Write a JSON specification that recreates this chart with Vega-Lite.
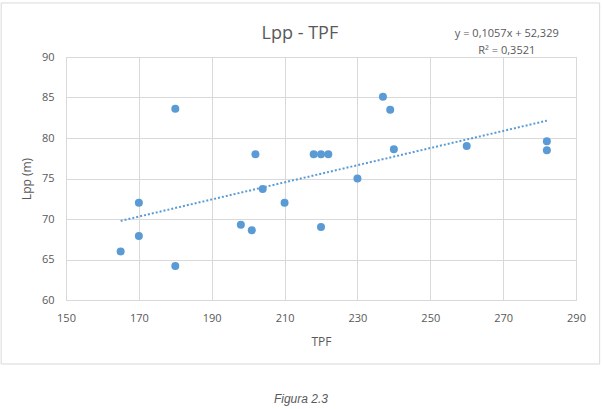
{
  "$schema": "https://vega.github.io/schema/vega-lite/v6.json",
  "autosize": "none",
  "width": 510,
  "height": 243,
  "padding": {"left": 66, "top": 57, "right": 27, "bottom": 109},
  "background": "white",
  "config": {
    "font": "Open Sans",
    "view": {"stroke": "#d9d9d9", "strokeWidth": 1},
    "axis": {
      "labelColor": "#595959",
      "titleColor": "#595959",
      "labelFont": "Open Sans",
      "titleFont": "Open Sans",
      "labelFontSize": 11,
      "titleFontSize": 12,
      "titleFontWeight": "normal",
      "gridColor": "#d9d9d9",
      "domainColor": "#d9d9d9",
      "tickSize": 0,
      "labelFlush": false
    }
  },
  "datasets": {
    "points": [
      {"TPF": 165, "Lpp": 66.0},
      {"TPF": 170, "Lpp": 72.0},
      {"TPF": 170, "Lpp": 67.9},
      {"TPF": 180, "Lpp": 83.6},
      {"TPF": 180, "Lpp": 64.2},
      {"TPF": 198, "Lpp": 69.3},
      {"TPF": 201, "Lpp": 68.6},
      {"TPF": 202, "Lpp": 78.0},
      {"TPF": 204, "Lpp": 73.7},
      {"TPF": 210, "Lpp": 72.0},
      {"TPF": 218, "Lpp": 78.0},
      {"TPF": 220, "Lpp": 78.0},
      {"TPF": 222, "Lpp": 78.0},
      {"TPF": 220, "Lpp": 69.0},
      {"TPF": 230, "Lpp": 75.0},
      {"TPF": 237, "Lpp": 85.1},
      {"TPF": 239, "Lpp": 83.5},
      {"TPF": 240, "Lpp": 78.6},
      {"TPF": 260, "Lpp": 79.0},
      {"TPF": 282, "Lpp": 79.6},
      {"TPF": 282, "Lpp": 78.5}
    ],
    "trend": [
      {"TPF": 165, "Lpp": 69.77},
      {"TPF": 282, "Lpp": 82.14}
    ],
    "notes": [
      {"TPF": 271, "Lpp": 92.9, "label": "y = 0,1057x + 52,329"},
      {"TPF": 271, "Lpp": 90.7, "label": "R² = 0,3521"}
    ],
    "heading": [
      {"TPF": 214.2, "Lpp": 92.84, "label": "Lpp - TPF"}
    ],
    "caption": [
      {"TPF": 214.5, "Lpp": 47.8, "label": "Figura 2.3"}
    ],
    "frame": [
      {"x1": 132.2, "x2": 296.5, "y1": 52.1, "y2": 96.67}
    ]
  },
  "layer": [
    {
      "data": {"name": "frame"},
      "mark": {"type": "rect", "fill": null, "fillOpacity": 0, "stroke": "#d9d9d9", "strokeWidth": 1, "clip": false},
      "encoding": {
        "x": {"field": "x1", "type": "quantitative"},
        "x2": {"field": "x2"},
        "y": {"field": "y1", "type": "quantitative"},
        "y2": {"field": "y2"}
      }
    },
    {
      "data": {"name": "trend"},
      "mark": {"type": "line", "color": "#5b9bd5", "strokeWidth": 2, "strokeDash": [2, 2]},
      "encoding": {
        "x": {
          "field": "TPF", "type": "quantitative",
          "scale": {"domain": [150, 290], "nice": false, "zero": false},
          "axis": {"values": [150, 170, 190, 210, 230, 250, 270, 290], "title": "TPF", "labelPadding": 12, "titlePadding": 13}
        },
        "y": {
          "field": "Lpp", "type": "quantitative",
          "scale": {"domain": [60, 90], "nice": false, "zero": false},
          "axis": {"values": [60, 65, 70, 75, 80, 85, 90], "title": "Lpp (m)", "labelPadding": 12, "titlePadding": 8}
        }
      }
    },
    {
      "data": {"name": "points"},
      "mark": {"type": "circle", "color": "#5b9bd5", "size": 64, "opacity": 1},
      "encoding": {
        "x": {"field": "TPF", "type": "quantitative"},
        "y": {"field": "Lpp", "type": "quantitative"}
      }
    },
    {
      "data": {"name": "notes"},
      "mark": {"type": "text", "color": "#595959", "fontSize": 11, "font": "Open Sans", "align": "center", "baseline": "middle", "clip": false},
      "encoding": {
        "x": {"field": "TPF", "type": "quantitative"},
        "y": {"field": "Lpp", "type": "quantitative"},
        "text": {"field": "label"}
      }
    },
    {
      "data": {"name": "heading"},
      "mark": {"type": "text", "color": "#595959", "fontSize": 18, "font": "Open Sans", "align": "center", "baseline": "middle", "clip": false},
      "encoding": {
        "x": {"field": "TPF", "type": "quantitative"},
        "y": {"field": "Lpp", "type": "quantitative"},
        "text": {"field": "label"}
      }
    },
    {
      "data": {"name": "caption"},
      "mark": {"type": "text", "color": "#595959", "fontSize": 12, "font": "Liberation Sans", "fontStyle": "italic", "align": "center", "baseline": "middle", "clip": false},
      "encoding": {
        "x": {"field": "TPF", "type": "quantitative"},
        "y": {"field": "Lpp", "type": "quantitative"},
        "text": {"field": "label"}
      }
    }
  ]
}
